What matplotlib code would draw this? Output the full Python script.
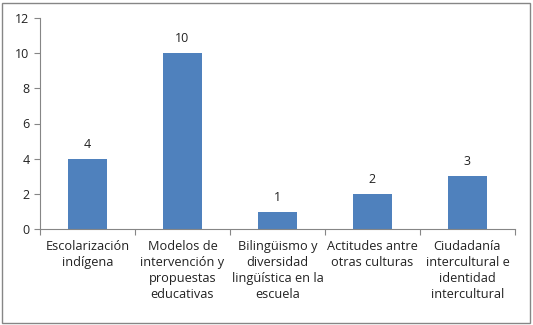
import numpy as np
import matplotlib.pyplot as plt
from matplotlib.patches import Rectangle

plt.rcParams['font.family'] = ['Open Sans', 'DejaVu Sans']

categorias = ["Escolarización\nindígena",
              "Modelos de\nintervención y\npropuestas\neducativas",
              "Bilingüismo y\ndiversidad\nlingüística en la\nescuela",
              "Actitudes antre\notras culturas",
              "Ciudadanía\nintercultural e\nidentidad\nintercultural"]
valores = [4, 10, 1, 2, 3]

fig = plt.figure(figsize=(5.33, 3.25), dpi=100)
ax = fig.add_axes([0.075, 0.295, 0.891, 0.65])

x = np.arange(len(categorias))
ax.bar(x, valores, width=0.41, color="#4F81BD")
for xi, v in zip(x, valores):
    ax.text(xi, v + 0.45, str(v), ha="center", va="bottom", fontsize=9, color="#222222")

ax.set_xlim(-0.5, len(categorias) - 0.5)
ax.set_ylim(0, 12)
ax.set_yticks(range(0, 13, 2))
ax.set_xticks(np.arange(-0.5, len(categorias), 1))
ax.set_xticklabels([])
ax.tick_params(axis="x", which="major", length=4, color="#868686")
ax.tick_params(axis="y", length=4, color="#868686", labelsize=9, labelcolor="#222222")

# etiquetas de categoría centradas bajo cada barra
for xi, cat in zip(x, categorias):
    ax.annotate(cat, xy=(xi, 0), xycoords=("data", "axes fraction"),
                xytext=(0, -8), textcoords="offset points",
                ha="center", va="top", multialignment="center",
                fontsize=9.2, color="#222222", linespacing=1.3)

for s in ["top", "right"]:
    ax.spines[s].set_visible(False)
for s in ["left", "bottom"]:
    ax.spines[s].set_color("#868686")

# borde del gráfico
fig.patches.append(Rectangle((0.004, 0.006), 0.99, 0.985, transform=fig.transFigure,
                             fill=False, edgecolor="#868686", linewidth=1))

fig.savefig("out.png", dpi=100)
